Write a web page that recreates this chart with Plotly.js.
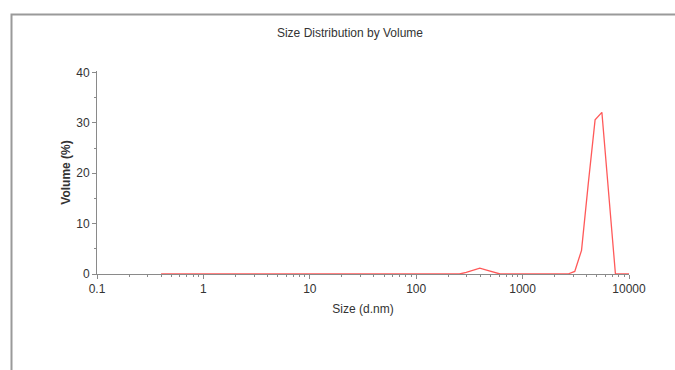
<!DOCTYPE html>
<html>
<head>
<meta charset="utf-8">
<script src="https://cdn.plot.ly/plotly-3.0.1.min.js"></script>
<style>
  html, body { margin: 0; padding: 0; background: #ffffff; }
  #chart { width: 675px; height: 370px; }
</style>
</head>
<body>
<div id="chart"></div>
<script>
// Size classes (d.nm)
const sizes = [0.4, 0.4632, 0.5365, 0.6213, 0.7195, 0.8332, 0.9649, 1.117, 1.294, 1.499,
  1.736, 2.01, 2.328, 2.696, 3.122, 3.615, 4.187, 4.849, 5.615, 6.503,
  7.531, 8.721, 10.1, 11.7, 13.54, 15.69, 18.17, 21.04, 24.36, 28.21,
  32.67, 37.84, 43.82, 50.75, 58.77, 68.06, 78.82, 91.28, 105.7, 122.4,
  141.8, 164.2, 190.1, 220.2, 255.0, 295.3, 342.0, 396.1, 458.7, 531.2,
  615.1, 712.4, 825.0, 955.4, 1106, 1281, 1484, 1718, 1990, 2305,
  2669, 3091, 3580, 4145, 4801, 5560, 6439, 7456, 8635, 10000];
// Volume (%)
const volume = [0, 0, 0, 0, 0, 0, 0, 0, 0, 0,
  0, 0, 0, 0, 0, 0, 0, 0, 0, 0,
  0, 0, 0, 0, 0, 0, 0, 0, 0, 0,
  0, 0, 0, 0, 0, 0, 0, 0, 0, 0,
  0, 0, 0, 0, 0, 0.3, 0.75, 1.15, 0.75, 0.3,
  0, 0, 0, 0, 0, 0, 0, 0, 0, 0,
  0, 0.5, 4.7, 18.0, 30.6, 32.1, 15.3, 0, 0, 0];
const xTickVals = [0.1, 1, 10, 100, 1000, 10000];
const xTickText = ["0.1", "1", "10", "100", "1000", "10000"];
const yTickVals = [0, 10, 20, 30, 40];

const FONT = '"Liberation Sans", Arial, sans-serif';
const AXIS = '#8a8a8a';

const trace = {
  x: sizes, y: volume, type: 'scatter', mode: 'lines',
  line: { color: 'rgba(255,60,60,0.85)', width: 1.3 },
  hoverinfo: 'skip', cliponaxis: false
};

const layout = {
  width: 675, height: 370,
  margin: { l: 97, r: 46, t: 71, b: 96 },
  paper_bgcolor: '#ffffff', plot_bgcolor: '#ffffff',
  showlegend: false,
  font: { family: FONT, size: 12, color: '#333333' },
  title: {
    text: 'Size Distribution by Volume',
    font: { family: FONT, size: 12, color: '#333333' },
    xref: 'container', x: 350 / 675, xanchor: 'center',
    yref: 'container', y: 1 - 33 / 370, yanchor: 'middle'
  },
  xaxis: {
    type: 'log', range: [-1, 4],
    tickmode: 'array', tickvals: xTickVals, ticktext: xTickText,
    showgrid: false, zeroline: false,
    showline: true, linecolor: AXIS, linewidth: 1,
    ticks: 'outside', ticklen: 4, tickcolor: AXIS, tickwidth: 1,
    minor: { dtick: 'D1', ticks: 'outside', ticklen: 2, tickcolor: AXIS, showgrid: false },
    tickfont: { family: FONT, size: 12, color: '#333333' },
    title: { text: 'Size (d.nm)', font: { family: FONT, size: 12, color: '#333333' }, standoff: 9 },
    automargin: false, fixedrange: true
  },
  yaxis: {
    range: [0, 40.3],
    tickmode: 'array', tickvals: yTickVals,
    showgrid: false, zeroline: false,
    showline: true, linecolor: AXIS, linewidth: 1,
    ticks: 'outside', ticklen: 4, tickcolor: AXIS, tickwidth: 1,
    minor: { dtick: 5, ticks: 'outside', ticklen: 2, tickcolor: AXIS, showgrid: false },
    tickfont: { family: FONT, size: 12, color: '#333333' },
    title: { text: '<b>Volume (%)</b>', font: { family: FONT, size: 12, color: '#333333' }, standoff: 3 },
    automargin: false, fixedrange: true
  },
  shapes: [{
    type: 'rect', xref: 'paper', yref: 'paper',
    x0: (11.5 - 97) / 532, x1: (700 - 97) / 532,
    y0: (274 - 400) / 203, y1: (274 - 14.5) / 203,
    line: { color: '#9a9a9a', width: 2 }, fillcolor: 'rgba(0,0,0,0)', layer: 'below'
  }]
};

Plotly.newPlot('chart', [trace], layout, { displayModeBar: false, staticPlot: true });
</script>
</body>
</html>
